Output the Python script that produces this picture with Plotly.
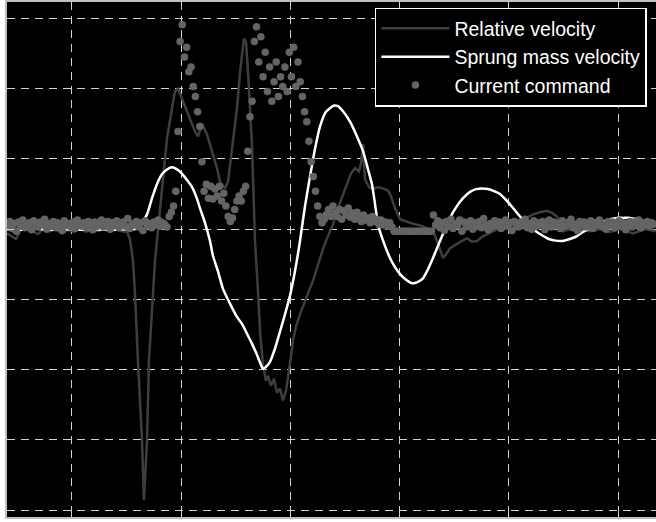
import plotly.graph_objects as go

# ---------------- data ----------------
rel_time = [
    0.405, 0.451, 0.487, 0.524, 0.579, 0.634, 0.689, 0.744, 0.799, 0.854,
    0.908, 0.963, 1.018, 1.073, 1.128, 1.183, 1.238, 1.293, 1.348, 1.403,
    1.458, 1.504, 1.531, 1.559, 1.577, 1.604, 1.641, 1.659, 1.687, 1.705,
    1.742, 1.760, 1.778, 1.824, 1.870, 1.916, 1.943, 1.971, 2.017, 2.062,
    2.126, 2.154, 2.191, 2.236, 2.282, 2.328, 2.355, 2.401, 2.429, 2.474,
    2.511, 2.539, 2.575, 2.593, 2.612, 2.648, 2.676, 2.703, 2.722, 2.749,
    2.777, 2.795, 2.822, 2.850, 2.877, 2.905, 2.932, 2.960, 2.987, 3.006,
    3.024, 3.051, 3.088, 3.115, 3.143, 3.180, 3.207, 3.234, 3.271, 3.308,
    3.344, 3.390, 3.436, 3.482, 3.518, 3.555, 3.592, 3.628, 3.647, 3.665,
    3.683, 3.720, 3.756, 3.802, 3.848, 3.894, 3.921, 3.958, 4.004, 4.095,
    4.214, 4.306, 4.343, 4.397, 4.434, 4.462, 4.526, 4.571, 4.617, 4.663,
    4.709, 4.755, 4.800, 4.855, 4.919, 5.011, 5.103, 5.167, 5.222, 5.286,
    5.350, 5.396, 5.441, 5.469, 5.496, 5.542, 5.625, 5.744, 5.835, 5.927,
    6.018, 6.137, 6.247, 6.348]
rel_vel = [
    -0.006, -0.011, -0.014, -0.003, 0.003, -0.003, -0.007, 0.001, -0.003, 0.000,
    -0.006, -0.001, -0.004, 0.001, -0.004, 0.000, -0.003, 0.001, -0.004, 0.000,
    -0.003, -0.004, -0.014, -0.045, -0.092, -0.187, -0.301, -0.386, -0.301, -0.187,
    -0.092, -0.045, -0.017, 0.054, 0.129, 0.172, 0.196, 0.200, 0.182, 0.163,
    0.139, 0.132, 0.150, 0.135, 0.111, 0.087, 0.068, 0.058, 0.068, 0.121,
    0.172, 0.224, 0.271, 0.267, 0.224, 0.121, -0.017, -0.088, -0.145, -0.194,
    -0.216, -0.209, -0.223, -0.213, -0.233, -0.227, -0.244, -0.230, -0.204, -0.180,
    -0.159, -0.139, -0.121, -0.109, -0.099, -0.084, -0.074, -0.060, -0.041, -0.024,
    -0.010, 0.007, 0.030, 0.050, 0.065, 0.079, 0.087, 0.082, 0.094, 0.121,
    0.071, 0.060, 0.057, 0.060, 0.058, 0.055, 0.047, 0.030, 0.014, 0.009,
    0.004, -0.003, -0.017, -0.041, -0.034, -0.027, -0.021, -0.017, -0.013, -0.018,
    -0.017, -0.011, -0.007, -0.003, 0.001, 0.007, 0.011, 0.017, 0.021, 0.024,
    0.026, 0.023, 0.018, 0.009, -0.003, -0.001, 0.000, -0.003, 0.000, -0.004,
    0.000, -0.006, 0.000, -0.003]

sprung_time = [
    0.405, 0.524, 0.661, 0.799, 0.936, 1.073, 1.211, 1.348, 1.485, 1.577,
    1.641, 1.687, 1.733, 1.778, 1.824, 1.870, 1.916, 1.962, 2.007, 2.053,
    2.099, 2.145, 2.172, 2.218, 2.264, 2.291, 2.337, 2.383, 2.447, 2.511,
    2.557, 2.603, 2.648, 2.694, 2.722, 2.749, 2.777, 2.813, 2.859, 2.905,
    2.951, 2.996, 3.042, 3.088, 3.134, 3.180, 3.225, 3.271, 3.326, 3.399,
    3.436, 3.491, 3.546, 3.601, 3.665, 3.711, 3.747, 3.775, 3.802, 3.857,
    3.912, 3.958, 4.004, 4.059, 4.114, 4.169, 4.214, 4.251, 4.306, 4.370,
    4.416, 4.462, 4.517, 4.581, 4.645, 4.700, 4.755, 4.810, 4.865, 4.919,
    4.984, 5.039, 5.103, 5.167, 5.222, 5.286, 5.350, 5.414, 5.487, 5.560,
    5.625, 5.680, 5.744, 5.835, 5.927, 5.991, 6.046, 6.110, 6.174, 6.247,
    6.321, 6.348]
sprung_vel = [
    0.000, -0.001, 0.001, -0.001, 0.000, -0.001, 0.000, -0.001, 0.000, 0.000,
    0.009, 0.021, 0.044, 0.064, 0.078, 0.085, 0.088, 0.085, 0.079, 0.070,
    0.060, 0.043, 0.030, 0.009, -0.017, -0.038, -0.060, -0.085, -0.106, -0.125,
    -0.135, -0.149, -0.163, -0.179, -0.190, -0.199, -0.196, -0.189, -0.170, -0.146,
    -0.121, -0.095, -0.060, -0.017, 0.033, 0.075, 0.114, 0.146, 0.167, 0.176,
    0.175, 0.166, 0.153, 0.135, 0.111, 0.085, 0.064, 0.036, 0.007, -0.020,
    -0.041, -0.054, -0.064, -0.072, -0.077, -0.075, -0.070, -0.060, -0.041, -0.017,
    0.000, 0.016, 0.031, 0.044, 0.053, 0.057, 0.058, 0.057, 0.054, 0.050,
    0.040, 0.030, 0.018, 0.007, 0.000, -0.007, -0.013, -0.016, -0.017, -0.014,
    -0.010, -0.004, 0.001, 0.009, 0.014, 0.016, 0.016, 0.016, 0.014, 0.011,
    0.009, 0.007]

# current command samples, first sample at t = 0.41 s, one every 0.02 s
cmd_start = 0.41
cmd_step = 0.02
cmd_before = [
    0.005, 0.011, 0.001, 0.008, -0.003, 0.010, 0.004, 0.013, 0.002, 0.007,
    0.009, -0.001, 0.012, 0.005, 0.003, 0.010, 0.006, 0.014, 0.000, 0.008,
    0.004, 0.011, 0.002, 0.009, 0.006, -0.002, 0.012, 0.005, 0.008, 0.003,
    0.010, 0.001, 0.013, 0.006, 0.004, 0.009, 0.002, 0.011, 0.007, -0.001,
    0.010, 0.004, 0.008, 0.013, 0.003, 0.006, 0.011, 0.000, 0.009, 0.005,
    0.012, 0.002, 0.007, 0.010, 0.004, 0.015, 0.001, 0.008, 0.006, 0.011,
    0.003, 0.009, -0.002, 0.012, 0.005, 0.008, 0.002, 0.010, 0.006, 0.013,
    0.004, 0.009, 0.007, 0.003, 0.018, 0.024]
cmd_active = [
    0.033, 0.054, 0.139, 0.267, 0.291, 0.245, 0.259, 0.224, 0.231, 0.203,
    0.189, 0.167, 0.146, 0.096, 0.054, 0.064, 0.044, 0.061, 0.043, 0.057,
    0.047, 0.061, 0.040, 0.051, 0.033, 0.018, 0.011, 0.016, 0.028, 0.040,
    0.047, 0.040, 0.054, 0.061, 0.111, 0.160, 0.182, 0.267, 0.288, 0.238,
    0.274, 0.217, 0.252, 0.196, 0.231, 0.182, 0.210, 0.238, 0.189, 0.217,
    0.203, 0.231, 0.196, 0.252, 0.217, 0.259, 0.203, 0.238, 0.210, 0.189,
    0.167, 0.153, 0.125, 0.096, 0.075, 0.054, 0.033, 0.018, 0.009, 0.014]
cmd_decay = [
    0.021, 0.028, 0.018, 0.033, 0.023,
    0.018, 0.028, 0.014, 0.026, 0.020, 0.030, 0.017, 0.023, 0.014, 0.024,
    0.017, 0.011, 0.020, 0.013, 0.016, 0.009, 0.018, 0.011, 0.014, 0.007,
    0.013, 0.006, 0.010, 0.004, 0.009, 0.003, -0.003, -0.003, -0.003, -0.003,
    -0.003, -0.003, -0.003, -0.003, -0.003, -0.003, -0.003, -0.003, -0.003,
    -0.003, -0.003, -0.003, -0.003, -0.003, 0.020]
cmd_after = [
    0.006, 0.012, 0.002, 0.009, -0.002, 0.011, 0.004, 0.014, 0.001, 0.008,
    0.005, 0.013, -0.003, 0.010, 0.003, 0.007, 0.012, 0.000, 0.009, 0.004,
    0.011, 0.002, 0.015, 0.006, -0.001, 0.008, 0.003, 0.012, 0.005, 0.010,
    0.001, 0.007, 0.013, 0.004, 0.009, -0.002, 0.011, 0.006, 0.003, 0.010,
    0.005, 0.014, 0.002, 0.008, 0.000, 0.012, 0.004, 0.009, 0.006, 0.011,
    -0.001, 0.007, 0.013, 0.003, 0.010, 0.005, 0.008, 0.001, 0.012, 0.004,
    0.009, 0.006, 0.014, 0.002, 0.007, -0.002, 0.011, 0.005, 0.010, 0.003,
    0.008, 0.012, 0.001, 0.009, 0.006, 0.013, 0.004, 0.007, 0.000, 0.011,
    0.005, 0.010, 0.002, 0.008, 0.012, 0.004, 0.009, -0.001, 0.006, 0.011,
    0.003, 0.010, 0.005, 0.013, 0.002, 0.008, 0.006, 0.011, 0.004, 0.009,
    0.007]
cmd_values = cmd_before + cmd_active + cmd_decay + cmd_after

series_names = ["Relative velocity", "Sprung mass velocity", "Current command"]

# ---------------- figure ----------------
fig = go.Figure()
fig.add_trace(go.Scatter(
    x=rel_time, y=rel_vel, mode="lines", name=series_names[0],
    line=dict(color="#3e3e3e", width=2.5), legendgroup="a"))
fig.add_trace(go.Scatter(
    x=sprung_time, y=sprung_vel, mode="lines", name=series_names[1],
    line=dict(color="#ffffff", width=2.5, shape="spline", smoothing=0.6),
    legendgroup="b"))
fig.add_trace(go.Scatter(
    x0=cmd_start, dx=cmd_step, y=cmd_values, mode="markers", name=series_names[2],
    marker=dict(color="#646464", size=7.5, line=dict(width=0)), legendgroup="c"))

grid_style = dict(showgrid=True, gridcolor="#d2d2d2", gridwidth=1.2,
                  griddash="8px,6px", zeroline=False, showticklabels=False,
                  ticks="inside", ticklen=7, tickcolor="#d2d2d2",
                  showline=True, linecolor="#c0c0c0", linewidth=1.5)

fig.update_layout(
    width=656, height=522,
    margin=dict(l=7, r=0, t=0, b=5),
    paper_bgcolor="#ffffff", plot_bgcolor="#000000",
    font=dict(family="Liberation Sans, Arial, sans-serif", color="#ffffff"),
    showlegend=True,
    legend=dict(
        x=0.986, y=0.989, xanchor="right", yanchor="top",
        bgcolor="#000000", bordercolor="#ffffff", borderwidth=1.5,
        font=dict(size=19.5, color="#ffffff",
                  family="Liberation Sans, Arial, sans-serif"),
        tracegroupgap=0, itemwidth=68,
    ),
    xaxis=dict(range=[0.405, 6.348], tick0=1, dtick=1, mirror="allticks",
               **grid_style),
    yaxis=dict(range=[-0.4099, 0.3234], tick0=0, dtick=0.1, mirror=False,
               **grid_style),
)

fig.write_html("out.html",
               config={"displayModeBar": False},
               post_script="document.body.style.margin='0';"
                           "document.documentElement.style.overflow='hidden';")
